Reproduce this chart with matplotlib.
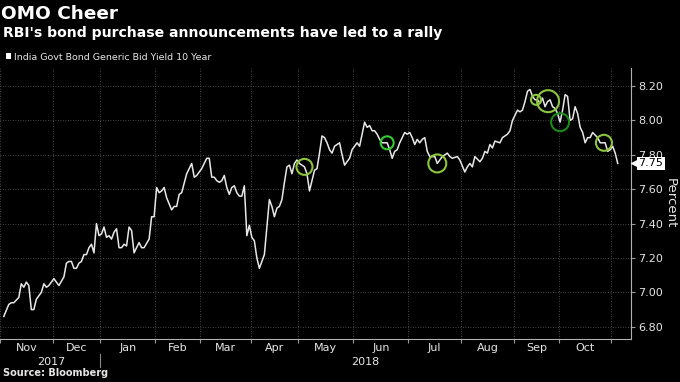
# OMO Cheer: India 10-year govt bond yield, Nov 2017 - early Nov 2018,
# with RBI bond purchase (OMO) announcement dates circled.
# Bloomberg draws the x axis in trading sessions, not calendar days, so the
# series is indexed by session number and month boundaries come from the
# number of sessions in each month.

import matplotlib.pyplot as plt
from matplotlib.patches import Patch
import numpy as np

# --- Data ----------------------------------------------------------------------
MONTHS = ["Nov", "Dec", "Jan", "Feb", "Mar", "Apr", "May", "Jun", "Jul", "Aug", "Sep", "Oct"]
SESSIONS_PER_MONTH = [21, 19, 22, 18, 20, 19, 22, 22, 21, 21, 18, 21]
YEARS = ["2017", "2018"]

SESSIONS = [
    1, 3, 4, 5, 7, 8, 9, 10, 11, 12, 13, 14, 15, 16, 17, 18, 19, 21, 22, 23,
    25, 26, 27, 28, 29, 30, 31, 32, 33, 34, 35, 36, 37, 38, 39, 40, 41, 42, 43, 44,
    45, 46, 47, 48, 49, 50, 51, 52, 53, 54, 55, 56, 57, 59, 60, 61, 62, 63, 64, 65,
    66, 68, 69, 70, 71, 72, 74, 76, 77, 78, 80, 81, 82, 83, 84, 85, 86, 87, 88, 89,
    90, 91, 92, 93, 94, 95, 96, 97, 98, 99, 100, 101, 102, 103, 104, 105, 106, 107, 108, 109,
    110, 111, 112, 113, 114, 115, 116, 117, 118, 119, 121, 122, 123, 124, 125, 126, 127, 128, 129, 130,
    131, 132, 133, 135, 136, 137, 139, 140, 141, 142, 143, 144, 145, 146, 147, 148, 149, 150, 151, 152,
    154, 155, 156, 157, 158, 159, 161, 162, 163, 164, 165, 166, 167, 168, 169, 170, 171, 172, 173, 174,
    175, 176, 177, 178, 179, 180, 182, 183, 185, 186, 187, 188, 189, 191, 192, 193, 194, 195, 196, 197,
    199, 200, 202, 203, 204, 205, 206, 207, 208, 209, 210, 211, 212, 213, 214, 215, 216, 217, 218, 219,
    220, 221, 222, 223, 224, 225, 226, 227, 228, 229, 230, 231, 232, 233, 234, 235, 236, 238, 239, 240,
    241, 242, 243, 244, 245, 246,
]
YIELDS = [
    6.86, 6.93, 6.94, 6.94, 6.97, 7.05, 7.03, 7.06, 7.04, 6.90, 6.90, 6.96, 6.98, 7.00, 7.05, 7.03, 7.04, 7.08, 7.06, 7.04,
    7.09, 7.17, 7.18, 7.18, 7.14, 7.14, 7.17, 7.18, 7.22, 7.22, 7.26, 7.28, 7.23, 7.40, 7.33, 7.34, 7.38, 7.32, 7.33, 7.31,
    7.35, 7.37, 7.26, 7.26, 7.28, 7.27, 7.38, 7.36, 7.23, 7.26, 7.29, 7.26, 7.26, 7.31, 7.44, 7.44, 7.61, 7.58, 7.59, 7.61,
    7.55, 7.48, 7.50, 7.50, 7.57, 7.58, 7.69, 7.75, 7.67, 7.68, 7.72, 7.75, 7.78, 7.78, 7.67, 7.67, 7.65, 7.64, 7.65, 7.68,
    7.61, 7.57, 7.61, 7.62, 7.58, 7.56, 7.56, 7.62, 7.33, 7.39, 7.32, 7.30, 7.20, 7.14, 7.18, 7.22, 7.38, 7.54, 7.50, 7.44,
    7.49, 7.50, 7.54, 7.64, 7.73, 7.74, 7.69, 7.75, 7.77, 7.75, 7.73, 7.69, 7.59, 7.65, 7.71, 7.72, 7.81, 7.91, 7.90, 7.87,
    7.83, 7.81, 7.85, 7.87, 7.80, 7.74, 7.78, 7.83, 7.85, 7.87, 7.85, 7.92, 7.99, 7.96, 7.97, 7.94, 7.94, 7.92, 7.89, 7.87,
    7.87, 7.83, 7.78, 7.82, 7.83, 7.87, 7.93, 7.92, 7.93, 7.90, 7.86, 7.89, 7.87, 7.89, 7.90, 7.82, 7.79, 7.79, 7.79, 7.75,
    7.77, 7.79, 7.80, 7.81, 7.79, 7.78, 7.79, 7.77, 7.70, 7.73, 7.75, 7.73, 7.79, 7.76, 7.78, 7.82, 7.81, 7.86, 7.84, 7.88,
    7.87, 7.90, 7.92, 7.94, 8.00, 8.03, 8.06, 8.05, 8.06, 8.11, 8.17, 8.18, 8.14, 8.12, 8.12, 8.10, 8.13, 8.08, 8.11, 8.12,
    8.08, 8.07, 8.04, 7.99, 8.06, 8.15, 8.14, 8.00, 8.01, 8.08, 8.04, 7.96, 7.93, 7.87, 7.90, 7.90, 7.93, 7.90, 7.87, 7.87,
    7.87, 7.82, 7.83, 7.85, 7.81, 7.75,
]

# sessions with an OMO announcement (circled on the chart)
OMO_SESSIONS = [121, 154, 174, 213.4, 218.2, 223, 240.5]

# --- Style -----------------------------------------------------------------------
BG = "black"
LINE_COLOR = "#e8e8e8"
GRID_COLOR = "#5a5a5a"
TEXT_COLOR = "#e6e6e6"
YELLOW_GREEN = "#8cc63f"
CIRCLE_COLORS = [YELLOW_GREEN, "#33cc33", YELLOW_GREEN, YELLOW_GREEN, YELLOW_GREEN, "#1b8a1b", YELLOW_GREEN]
CIRCLE_RADII_PX = [8, 6.5, 9, 5, 11, 9, 8]
DPI = 100

fig = plt.figure(figsize=(6.8, 3.82), dpi=DPI, facecolor=BG)
ax = fig.add_axes([0.0, 1 - 339 / 382, 631 / 680, 271 / 382], facecolor=BG)

ax.plot(SESSIONS, YIELDS, color=LINE_COLOR, lw=1.1, zorder=3)

# OMO circles, sitting on the line
omo_yields = np.interp(OMO_SESSIONS, SESSIONS, YIELDS)
sizes = [(2 * r * 72 / DPI) ** 2 for r in CIRCLE_RADII_PX]
ax.scatter(OMO_SESSIONS, omo_yields, s=sizes, facecolors="none",
           edgecolors=CIRCLE_COLORS, linewidths=1.5, zorder=4)

# --- Axes ------------------------------------------------------------------------
boundaries = np.concatenate([[0], np.cumsum(SESSIONS_PER_MONTH)]) - 0.5
centers = (boundaries[:-1] + boundaries[1:]) / 2

ax.set_xlim(0, 251.3)
ax.set_ylim(6.729, 8.305)

ax.set_xticks(boundaries)
ax.set_xticklabels([])
ax.set_xticks(centers, minor=True)
ax.set_xticklabels(MONTHS, minor=True)
ax.tick_params(axis="x", which="major", length=3, color="#9a9a9a", direction="out")
ax.tick_params(axis="x", which="minor", length=0, pad=3, labelsize=8, labelcolor=TEXT_COLOR)

yticks = np.arange(6.8, 8.21, 0.2)
ax.yaxis.tick_right()
ax.set_yticks(yticks)
ax.set_yticklabels([f"{v:.2f}" for v in yticks])
ax.tick_params(axis="y", length=3, color="#9a9a9a", pad=2, labelsize=8, labelcolor=TEXT_COLOR)

ax.grid(True, which="major", color=GRID_COLOR, ls=(0, (1, 2)), lw=0.6)
for side in ["left", "top"]:
    ax.spines[side].set_visible(False)
for side in ["bottom", "right"]:
    ax.spines[side].set_color("#b0b0b0")
    ax.spines[side].set_linewidth(0.8)

ax.yaxis.set_label_position("right")
ax.set_ylabel("Percent", rotation=270, color=TEXT_COLOR, fontsize=9.5, labelpad=10)

# year row under the month labels
trans = ax.get_xaxis_transform()
ax.text((boundaries[0] + boundaries[2]) / 2 + 0.5, -0.085, YEARS[0], transform=trans,
        ha="center", va="center", fontsize=8, color=TEXT_COLOR)
ax.text((boundaries[2] + 251.3) / 2, -0.085, YEARS[1], transform=trans,
        ha="center", va="center", fontsize=8, color=TEXT_COLOR)
ax.plot([boundaries[2]] * 2, [-0.055, -0.105], transform=trans, color="#8a8a8a",
        lw=0.8, clip_on=False)

# last-value tag on the right axis, drawn over the 7.80 tick label
last = YIELDS[-1]
ytrans = ax.get_yaxis_transform()
ax.scatter([1.006], [last], marker="<", s=30, color="white", transform=ytrans,
           clip_on=False, zorder=5)
ax.text(1.012, last, f"{last:.2f}", transform=ytrans, ha="left", va="center",
        fontsize=8, color="black", zorder=6,
        bbox=dict(boxstyle="square,pad=0.15", fc="white", ec="none"))

# --- Titles ----------------------------------------------------------------------
fig.text(0.002, 1 - 14 / 382, "OMO Cheer", ha="left", va="center",
         fontsize=13.3, fontweight="bold", color="white")
fig.text(0.004, 1 - 33 / 382, "RBI's bond purchase announcements have led to a rally",
         ha="left", va="center", fontsize=10.1, fontweight="bold", color="white")
fig.legend(handles=[Patch(facecolor="white", edgecolor="none",
                          label="India Govt Bond Generic Bid Yield 10 Year")],
           loc="center left", bbox_to_anchor=(-0.004, 1 - 57 / 382), frameon=False,
           handlelength=0.6, handleheight=0.6, handletextpad=0.3,
           fontsize=6.8, labelcolor=TEXT_COLOR)
fig.text(0.004, 1 - 373 / 382, "Source: Bloomberg", ha="left", va="center",
         fontsize=7, fontweight="bold", color=TEXT_COLOR)

fig.savefig("out.png", dpi=DPI, facecolor=BG)
